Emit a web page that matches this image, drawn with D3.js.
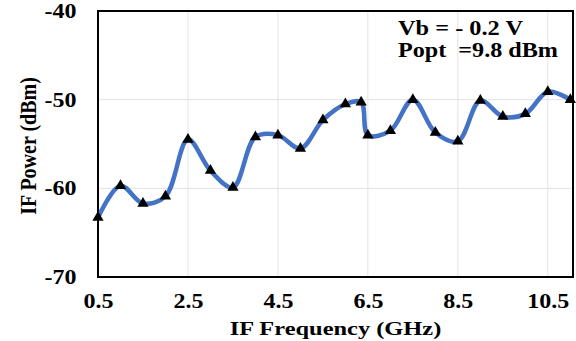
<!DOCTYPE html>
<html>
<head>
<meta charset="utf-8">
<script src="https://cdn.jsdelivr.net/npm/d3@7"></script>
<style>
  html, body { margin: 0; padding: 0; background: #fff; }
  svg { display: block; }
  text { font-family: "Liberation Serif", "Times New Roman", serif; font-weight: bold; fill: #000; }
</style>
</head>
<body>
<svg id="chart" width="576" height="341"></svg>
<script>
// IF output power versus IF frequency
const freqGHz = [0.5, 1.0, 1.5, 2.0, 2.5, 3.0, 3.5, 4.0, 4.5, 5.0, 5.5, 6.0, 6.35, 6.5,
                 7.0, 7.5, 8.0, 8.5, 9.0, 9.5, 10.0, 10.5, 11.0];
const powerDBm = [-63.3, -59.7, -61.7, -60.9, -54.5, -58.0, -59.9, -54.2, -54.0, -55.5, -52.3, -50.5, -50.3, -54.0,
                  -53.5, -50.0, -53.7, -54.7, -50.1, -51.9, -51.6, -49.1, -50.0];
const xTicks = [0.5, 2.5, 4.5, 6.5, 8.5, 10.5];
const yTicks = [-40, -50, -60, -70];
const noteLines = ["Vb = - 0.2 V", "Popt  =9.8 dBm"];

const svg = d3.select("#chart");
const margin = { left: 98, top: 11, right: 3, bottom: 64 };
const W = 576, H = 341;

const x = d3.scaleLinear().domain([0.5, 11.06]).range([margin.left, W - margin.right]);
const y = d3.scaleLinear().domain([-70, -40]).range([H - margin.bottom, margin.top]);

// grid
const grid = svg.append("g");
grid.selectAll("line.v").data(xTicks.slice(1)).join("line")
  .attr("x1", d => x(d)).attr("x2", d => x(d))
  .attr("y1", y(-40)).attr("y2", y(-70))
  .attr("stroke", "#e3e3e3").attr("stroke-width", 1);
grid.selectAll("line.h").data(yTicks.filter(d => d !== -40 && d !== -70)).join("line")
  .attr("x1", x.range()[0]).attr("x2", x.range()[1])
  .attr("y1", d => y(d)).attr("y2", d => y(d))
  .attr("stroke", "#e3e3e3").attr("stroke-width", 1);

// frame
svg.append("rect")
  .attr("x", x.range()[0]).attr("y", y(-40))
  .attr("width", x.range()[1] - x.range()[0]).attr("height", y(-70) - y(-40))
  .attr("fill", "none").attr("stroke", "#000").attr("stroke-width", 2);

// axes (labels only, wide bold serif)
const xAxis = svg.append("g").attr("transform", `translate(0,${y(-70)})`)
  .call(d3.axisBottom(x).tickValues(xTicks).tickFormat(d => d.toFixed(1)).tickSize(0).tickPadding(17));
xAxis.select(".domain").remove();
xAxis.selectAll("text")
  .style("font-size", "20px").style("font-family", "Liberation Serif").style("font-weight", "bold")
  .attr("transform", "scale(1.2,1)");

const yAxis = svg.append("g").attr("transform", `translate(${x.range()[0]},0)`)
  .call(d3.axisLeft(y).tickValues(yTicks).tickFormat(d => String(d)).tickSize(0).tickPadding(18));
yAxis.select(".domain").remove();
yAxis.selectAll("text")
  .style("font-size", "20px").style("font-family", "Liberation Serif").style("font-weight", "bold")
  .attr("transform", "scale(1.2,1)");

// axis titles
svg.append("text")
  .attr("transform", `translate(${(x.range()[0] + x.range()[1]) / 2},335) scale(1.32,1)`)
  .attr("text-anchor", "middle").style("font-size", "18.5px")
  .text("IF Frequency (GHz)");
svg.append("text")
  .attr("transform", `translate(36,${(y(-40) + y(-70)) / 2 + 2}) rotate(-90) scale(1,1.2)`)
  .attr("text-anchor", "middle").style("font-size", "20px")
  .text("IF Power (dBm)");

// smoothed series line
const pts = freqGHz.map((f, i) => [f, powerDBm[i]]);
const line = d3.line().x(d => x(d[0])).y(d => y(d[1])).curve(d3.curveCatmullRom.alpha(0.5));
svg.append("path").datum(pts)
  .attr("d", line)
  .attr("fill", "none").attr("stroke", "#4472c4").attr("stroke-width", 4.5)
  .attr("stroke-linejoin", "round").attr("stroke-linecap", "round");

// triangle markers
const tri = d3.symbol().type(d3.symbolTriangle).size(55);
svg.selectAll("path.mk").data(pts).join("path")
  .attr("class", "mk")
  .attr("transform", d => `translate(${x(d[0])},${y(d[1])})`)
  .attr("d", tri).attr("fill", "#000");

// bias annotation
const noteWidths = [125, 160];
svg.selectAll("text.note").data(noteLines).join("text")
  .attr("class", "note")
  .attr("x", 398).attr("y", (d, i) => 34.5 + i * 22)
  .style("font-size", "20px")
  .attr("xml:space", "preserve")
  .style("white-space", "pre")
  .attr("textLength", (d, i) => noteWidths[i])
  .attr("lengthAdjust", "spacingAndGlyphs")
  .text(d => d);
</script>
</body>
</html>
